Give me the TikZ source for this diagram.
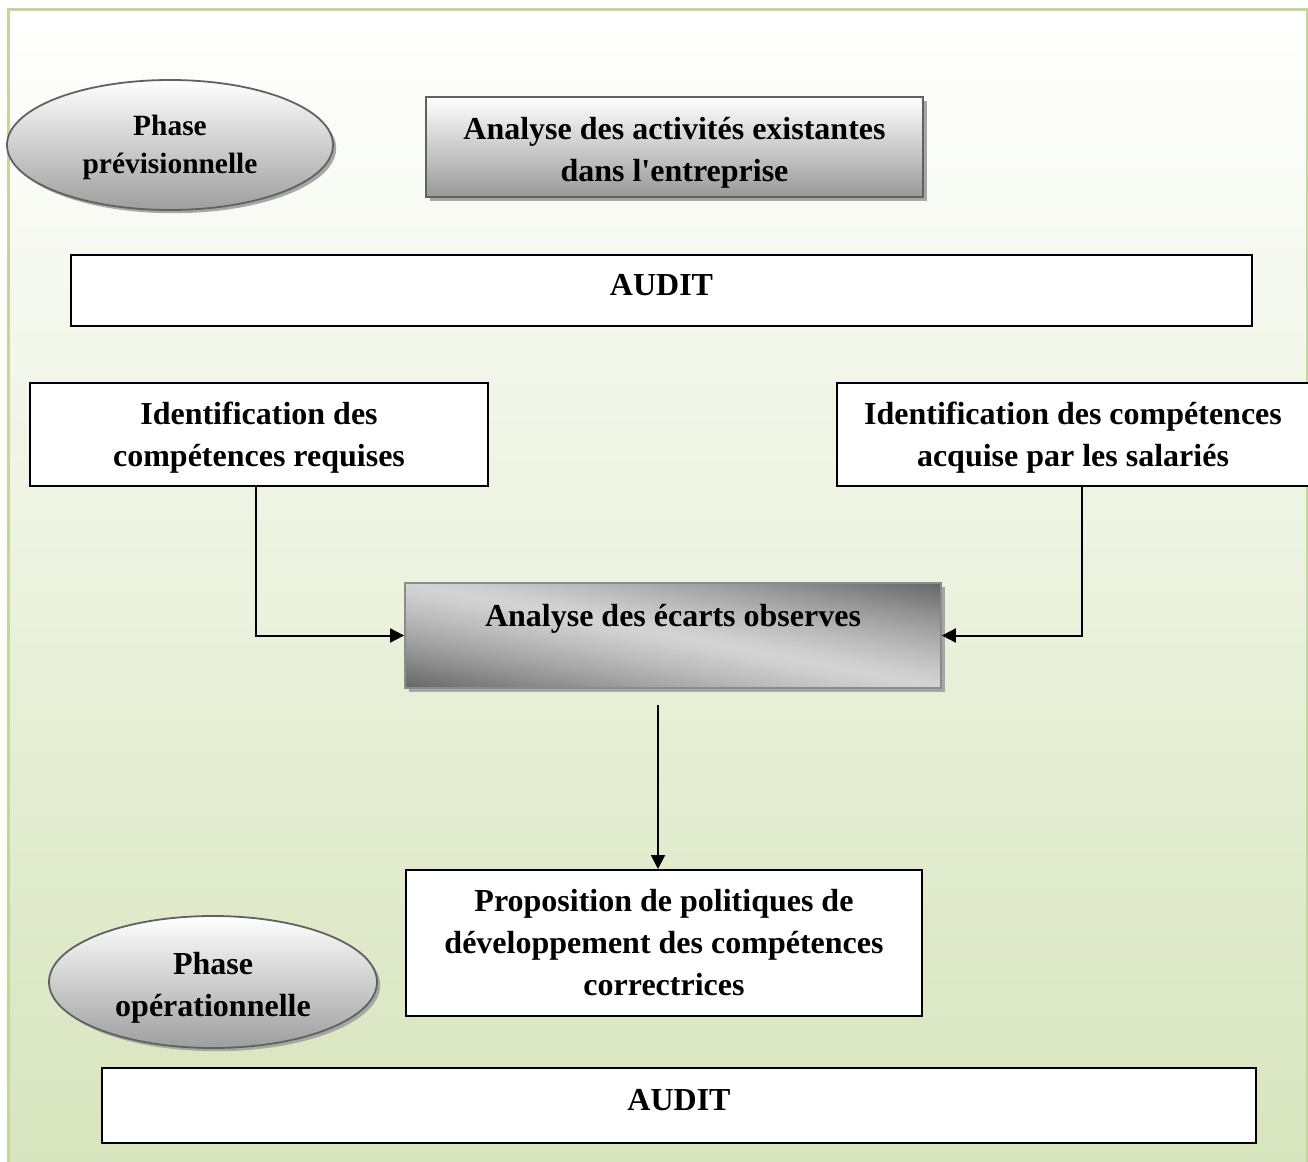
\documentclass[tikz,border=0pt]{standalone}
\usepackage{fontspec}
\setmainfont{Liberation Serif}[Ligatures=TeXOff]
\usetikzlibrary{arrows.meta,shadows,calc,shapes.geometric}

\definecolor{frameline}{HTML}{C3D69B}
\definecolor{framebottom}{HTML}{D7E4BC}
\definecolor{shadowgray}{HTML}{A6A6A6}

\tikzset{
  lbl/.style={font=\bfseries\fontsize{16pt}{21pt}\selectfont, align=center, inner sep=0pt, text=black},
  smalllbl/.style={lbl, font=\bfseries\fontsize{14.7pt}{19pt}\selectfont},
  plainbox/.style={rectangle, draw=black, line width=1pt, fill=white, inner sep=0pt},
  auditbox/.style={plainbox, line width=1.3pt},
  phase/.style={ellipse, draw=black!62, line width=0.9pt, inner sep=0pt,
    top color=white, bottom color=black!38,
    drop shadow={shadow xshift=1.6pt, shadow yshift=-1.6pt, fill=shadowgray, opacity=1}},
  greybox/.style={rectangle, draw=black!62, line width=1pt, inner sep=0pt,
    top color=white, bottom color=black!40,
    drop shadow={shadow xshift=2.2pt, shadow yshift=-2.2pt, fill=shadowgray, opacity=1}},
  % grey box whose tone runs light along the falling diagonal and dark towards
  % the upper-right and lower-left corners, built from thin diagonal bands
  diagbox/.style={rectangle, draw=black!45, line width=0.9pt, inner sep=0pt,
    drop shadow={shadow xshift=2.2pt, shadow yshift=-2.2pt, fill=shadowgray, opacity=1},
    path picture={
      \foreach \i in {0,...,59} {
        \pgfmathsetmacro\ca{-52.5+\i*1.75}
        \pgfmathsetmacro\ya{52.5+\ca}
        \pgfmathsetmacro\yb{\ya+2.2}
        \pgfmathsetmacro\za{\ca}
        \pgfmathsetmacro\zb{\ca+2.2}
        \pgfmathsetmacro\tt{abs(\ca+0.875)/52.5}
        \pgfmathsetmacro\pc{17+43*(\tt^1.25)}
        \fill[black!\pc]
          ([yshift=\ya pt]path picture bounding box.south west)
          -- ([xshift=268pt, yshift=\za pt]path picture bounding box.south west)
          -- ([xshift=268pt, yshift=\zb pt]path picture bounding box.south west)
          -- ([yshift=\yb pt]path picture bounding box.south west) -- cycle;
      }}},
  conn/.style={draw=black, line width=1pt, -{Triangle[length=7pt,width=7pt]}}
}

\begin{document}
\begin{tikzpicture}[x=0.5pt, y=-0.5pt]
  \useasboundingbox (0,0) rectangle (1308,1162);

  % framed background with a soft green gradient
  \shade[top color=white, bottom color=framebottom] (8,9) rectangle (1307,1175);
  \draw[frameline, line width=1.5pt] (8,1175) -- (8,9) -- (1307,9) -- (1307,1175);

  % phase labels
  \node[phase, minimum width=163pt, minimum height=65pt,
    label={[smalllbl, yshift=-1pt]center:{Phase\\prévisionnelle}}] (ph1) at (170,145) {};
  \node[phase, minimum width=164pt, minimum height=66pt,
    label={[lbl, yshift=-3pt]center:{Phase\\opérationnelle}}] (ph2) at (213,982) {};

  % process boxes
  \node[greybox, minimum width=248.5pt, minimum height=50pt,
    label={[lbl, yshift=-3pt]center:{Analyse des activités existantes\\dans l'entreprise}}]
    (act) at (674.5,147) {};
  \node[auditbox, minimum width=590.5pt, minimum height=35.5pt,
    label={[lbl, yshift=2.5pt]center:AUDIT}] (audit1) at (661.5,290.5) {};
  \node[plainbox, minimum width=229pt, minimum height=51.5pt,
    label={[lbl, yshift=-1.5pt]center:{Identification des\\compétences requises}}]
    (req) at (259,434.5) {};
  \node[plainbox, minimum width=236pt, minimum height=51.5pt,
    label={[lbl, yshift=-1.5pt]center:{Identification des compétences\\acquise par les salariés}}]
    (acq) at (1073,434.5) {};
  \node[diagbox, minimum width=268pt, minimum height=52.5pt,
    label={[lbl, yshift=-3.5pt]center:{Analyse des écarts observes\\\strut}}]
    (ecart) at (673,635.5) {};
  \node[plainbox, minimum width=258pt, minimum height=73pt,
    label={[lbl]center:{Proposition de politiques de\\développement des compétences\\correctrices}}]
    (prop) at (664,943) {};
  \node[auditbox, minimum width=577pt, minimum height=37.5pt,
    label={[lbl, yshift=2.5pt]center:AUDIT}] (audit2) at (679,1105.5) {};

  % connectors
  \coordinate (down) at (658,705);
  \draw[conn] ([xshift=-1.5pt]req.south) |- (ecart.west);
  \draw[conn] ([xshift=4.5pt]acq.south) |- (ecart.east);
  \draw[conn] (down) -- (down |- prop.north);
\end{tikzpicture}
\end{document}
